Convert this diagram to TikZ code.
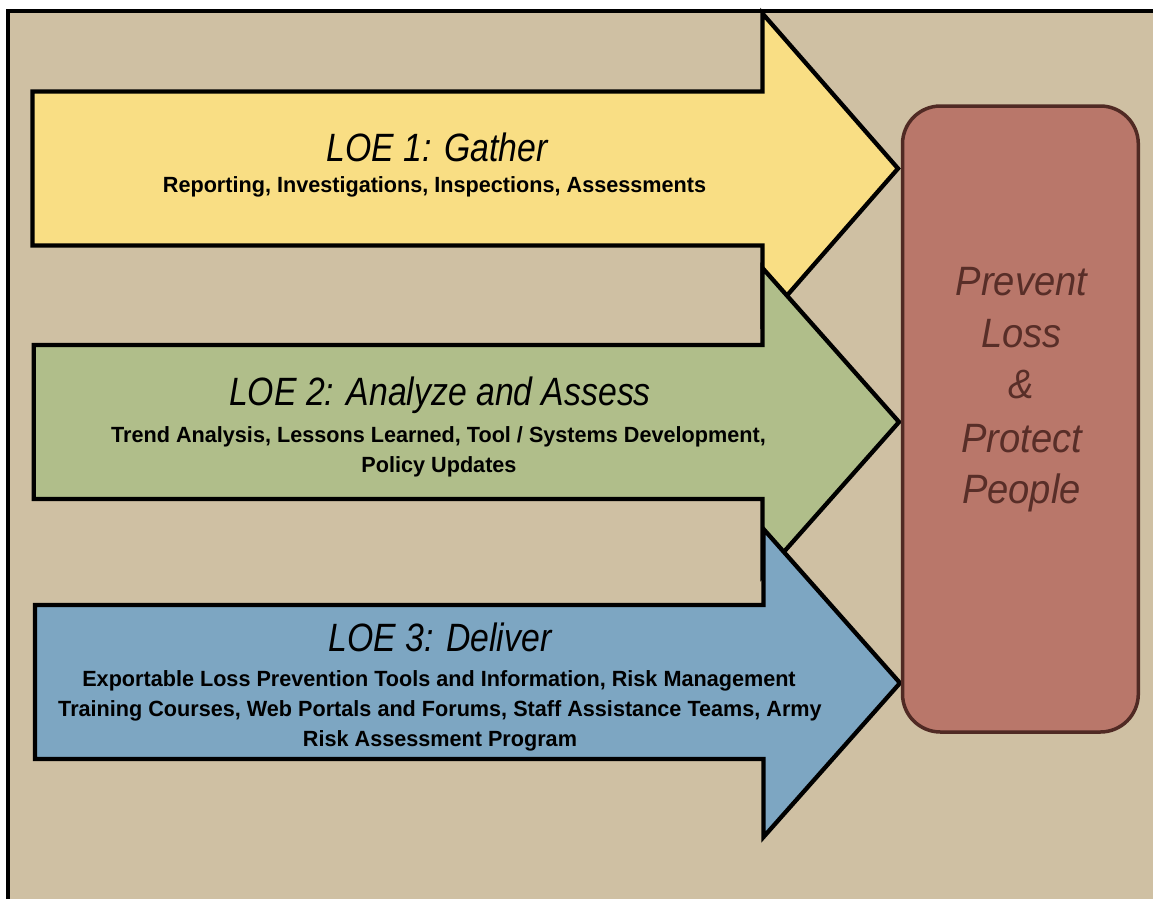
\documentclass[tikz,border=0pt]{standalone}
\usepackage{fontspec}
\setmainfont{Liberation Sans}
\newfontfamily\titlefont[FakeStretch=0.855]{Liberation Sans}
\newfontfamily\subfont[FakeStretch=0.983]{Liberation Sans}
\newfontfamily\goalfont[FakeStretch=0.93]{Liberation Sans}
\definecolor{beige}{HTML}{CFC0A3}
\definecolor{loeyellow}{HTML}{F9DE84}
\definecolor{loegreen}{HTML}{B0BE8A}
\definecolor{loeblue}{HTML}{7DA6C2}
\definecolor{goalfill}{HTML}{B9776A}
\definecolor{goalborder}{HTML}{502A24}
\definecolor{goaltxt}{HTML}{582E28}
\tikzset{
  arrowshape/.style={draw=black, line width=4.3pt, line join=miter},
  loetitle/.style={anchor=base, inner sep=0pt, font=\titlefont\itshape\fontsize{39.5}{40}\selectfont},
  loesub/.style={anchor=base, inner sep=0pt, font=\subfont\bfseries\fontsize{22}{24}\selectfont},
  goaltext/.style={anchor=base, inner sep=0pt, text=goaltxt, font=\goalfont\itshape\fontsize{41}{44}\selectfont},
}
\begin{document}
\begin{tikzpicture}[x=1pt,y=-1pt]
\useasboundingbox (0,0) rectangle (1153,898);
\clip (0,0) rectangle (1153,898);
% frame
\draw[line width=4pt, fill=beige] (7.5,11) rectangle (1180,930);
% LOE 1 arrow
\draw[arrowshape, fill=loeyellow] (32.5,91.5) -- (762.5,91.5) -- (762.5,13.5) -- (898,168.5) -- (762.5,323.5) -- (762.5,245.5) -- (32.5,245.5) -- cycle;
% LOE 2 arrow
\draw[arrowshape, fill=loegreen] (33.8,345) -- (762.5,345) -- (762.5,268) -- (899,422) -- (762.5,576) -- (762.5,499) -- (33.8,499) -- cycle;
% LOE 3 arrow
\draw[arrowshape, fill=loeblue] (35,605) -- (763.5,605) -- (763.5,529) -- (900,683) -- (763.5,837) -- (763.5,759) -- (35,759) -- cycle;
% goal box
\node[draw=goalborder, fill=goalfill, line width=3.5pt, rounded corners=38pt,
      minimum width=235.8pt, minimum height=626pt, inner sep=0pt] (goal) at (1020.4,419) {};
% texts
\node[loetitle] (t1) at (437,161.5) {LOE 1: Gather};
\node[loesub] (s1) at (434.5,192.5) {Reporting, Investigations, Inspections, Assessments};
\node[loetitle] (t2) at (440,405) {LOE 2: Analyze and Assess};
\node[loesub] (s2a) at (438.5,442) {Trend Analysis, Lessons Learned, Tool / Systems Development,};
\node[loesub] (s2b) at (439,472.5) {Policy Updates};
\node[loetitle] (t3) at (440,651) {LOE 3: Deliver};
\node[loesub] (s3a) at (439,686.5) {Exportable Loss Prevention Tools and Information, Risk Management};
\node[loesub] (s3b) at (440,716) {Training Courses, Web Portals and Forums, Staff Assistance Teams, Army};
\node[loesub] (s3c) at (440,746) {Risk Assessment Program};
\node[goaltext] (g1) at (1021.5,295) {Prevent};
\node[goaltext] (g2) at (1021.5,347) {Loss};
\node[goaltext] (g3) at (1021.5,398) {\&};
\node[goaltext] (g4) at (1021.5,452) {Protect};
\node[goaltext] (g5) at (1021.5,503) {People};
\end{tikzpicture}
\end{document}
